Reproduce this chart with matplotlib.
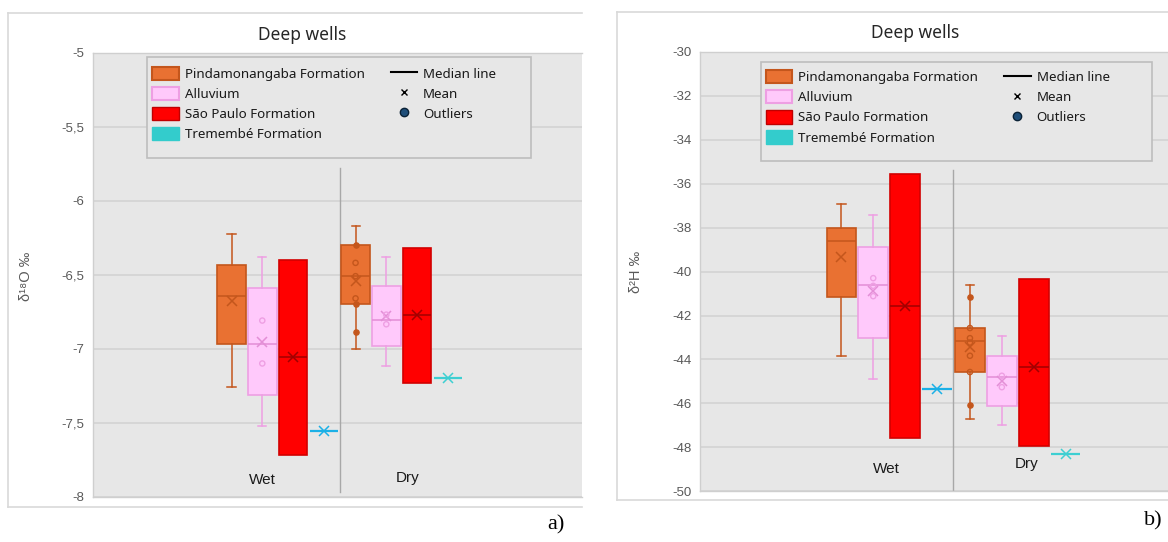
import matplotlib

matplotlib.use("Agg")

import matplotlib.pyplot as plt
from matplotlib.lines import Line2D
from matplotlib.patches import Patch, Rectangle
from matplotlib.ticker import FuncFormatter

categories = ["Wet", "Dry"]
formations = ["Pindamonangaba Formation", "Alluvium", "São Paulo Formation", "Tremembé Formation"]

# per season: (whisker low, q1, median, q3, whisker high, mean)
o18_pinda = [(-7.26, -6.97, -6.645, -6.435, -6.225, -6.68), (-7.005, -6.70, -6.51, -6.30, -6.17, -6.54)]
o18_alluvium = [(-7.52, -7.31, -6.97, -6.59, -6.38, -6.955), (-7.12, -6.98, -6.805, -6.575, -6.38, -6.78)]
o18_sao_paulo = [(-7.72, -7.72, -7.055, -6.40, -6.40, -7.055), (-7.235, -7.235, -6.77, -6.32, -6.32, -6.77)]
o18_tremembe = [-7.555, -7.195]
o18_pinda_points = [[], [-6.42, -6.51, -6.66]]
o18_pinda_outliers = [[], [-6.30, -6.70, -6.89]]
o18_alluvium_points = [[-6.81, -7.10], [-6.77, -6.835]]
o18_ticks = [-8, -7.5, -7, -6.5, -6, -5.5, -5]

h2_pinda = [(-43.83, -41.18, -38.62, -38.02, -36.91, -39.33), (-46.71, -44.57, -43.18, -42.57, -40.60, -43.44)]
h2_alluvium = [(-44.89, -43.0, -40.6, -38.88, -37.44, -40.88), (-46.97, -46.10, -44.80, -43.86, -42.95, -45.0)]
h2_sao_paulo = [(-47.55, -47.55, -41.56, -35.58, -35.58, -41.56), (-47.92, -47.92, -44.36, -40.35, -40.35, -44.36)]
h2_tremembe = [-45.32, -48.28]
h2_pinda_points = [[], [-42.57, -43.03, -43.23, -43.83, -44.57]]
h2_pinda_outliers = [[], [-41.15, -46.06]]
h2_alluvium_points = [[-40.30, -40.65, -41.12], [-44.74, -45.26]]
h2_ticks = [-50, -48, -46, -44, -42, -40, -38, -36, -34, -32, -30]

PINDA_FILL, PINDA_EDGE = "#E97132", "#C4561C"
ALLU_FILL, ALLU_EDGE = "#FFC9FB", "#EE9FE3"
SP_FILL, SP_EDGE, SP_MED = "#FF0000", "#D20000", "#A00000"
TREM_COLORS = ["#1CB0E6", "#3ECFD2"]
TREM_LEGEND = "#33CCCC"
PLOT_BG = "#E7E7E7"
GRID = "#D5D5D5"
TICK_GREY = "#595959"

W, H = 1168, 542
OFFSETS = [-0.372, -0.124, 0.124, 0.372]
BOX_W = 0.23


def fx(x):
    return x / W


def fy(y):
    return 1 - y / H


def stats_of(rows):
    return [
        dict(whislo=r[0], q1=r[1], med=r[2], q3=r[3], whishi=r[4], mean=r[5], fliers=[])
        for r in rows
    ]


def draw_group(ax, rows, positions, fill, edge, med, lw=1.2, caps=True):
    ax.bxp(
        stats_of(rows),
        positions=positions,
        widths=BOX_W,
        patch_artist=True,
        showmeans=True,
        showfliers=False,
        showcaps=caps,
        manage_ticks=False,
        capwidths=0.065,
        boxprops=dict(facecolor=fill, edgecolor=edge, linewidth=lw),
        medianprops=dict(color=med, linewidth=1.1),
        whiskerprops=dict(color=edge, linewidth=1.1),
        capprops=dict(color=edge, linewidth=1.1),
        meanprops=dict(marker="x", markeredgecolor=med, markersize=7, markeredgewidth=1.1, linestyle="none"),
        zorder=2,
    )


def draw_points(ax, values, offset, color, filled):
    for i, vals in enumerate(values):
        if not vals:
            continue
        ax.scatter(
            [i + offset] * len(vals),
            vals,
            s=14,
            facecolors=color if filled else "none",
            edgecolors=color,
            linewidths=1.0,
            zorder=3,
        )


def draw_panel(ax, pinda, allu, sp, trem, pinda_pts, pinda_out, allu_pts, ticks, fmt, xlim, divider, labels_xy):
    ax.set_facecolor(PLOT_BG)
    ax.set_xlim(*xlim)
    ax.set_ylim(ticks[0], ticks[-1])
    ax.set_yticks(ticks)
    ax.yaxis.set_major_formatter(FuncFormatter(fmt))
    ax.tick_params(axis="y", length=0, pad=6, labelsize=9.5, labelcolor=TICK_GREY)
    for lab in ax.get_yticklabels():
        lab.set_family(["Liberation Sans Narrow", "Liberation Sans", "DejaVu Sans"])
    ax.set_xticks([])
    ax.grid(axis="y", color=GRID, linewidth=1.3)
    ax.set_axisbelow(True)
    for side in ["left", "top", "bottom"]:
        ax.spines[side].set_color("#CFCFCF")
        ax.spines[side].set_linewidth(1.0)
    ax.spines["right"].set_visible(False)

    ax.axvline(0.5, ymin=divider[0], ymax=divider[1], color="#A8A8A8", linewidth=1.0, zorder=1.5)

    pos = range(len(categories))
    draw_group(ax, pinda, [i + OFFSETS[0] for i in pos], PINDA_FILL, PINDA_EDGE, PINDA_EDGE)
    draw_group(ax, allu, [i + OFFSETS[1] for i in pos], ALLU_FILL, ALLU_EDGE, "#E38ED6")
    draw_group(ax, sp, [i + OFFSETS[2] for i in pos], SP_FILL, SP_EDGE, SP_MED, caps=False)
    for i, v in enumerate(trem):
        draw_group(ax, [(v, v, v, v, v, v)], [i + OFFSETS[3]], "none", TREM_COLORS[i], TREM_COLORS[i],
                   lw=1.6, caps=False)

    draw_points(ax, pinda_pts, OFFSETS[0], PINDA_EDGE, False)
    draw_points(ax, pinda_out, OFFSETS[0], PINDA_EDGE, True)
    draw_points(ax, allu_pts, OFFSETS[1], "#EE9FE3", False)

    for name, (x, y) in zip(categories, labels_xy):
        ax.text(x, y, name, ha="center", va="center", fontsize=11, color="#1A1A1A",
                family=["Liberation Sans", "DejaVu Sans"], zorder=4)


def legend_handles():
    return [
        Patch(facecolor=PINDA_FILL, edgecolor=PINDA_EDGE, linewidth=1.5, label=formations[0]),
        Patch(facecolor=ALLU_FILL, edgecolor=ALLU_EDGE, linewidth=1.5, label=formations[1]),
        Patch(facecolor=SP_FILL, edgecolor="#C00000", linewidth=1.0, label=formations[2]),
        Patch(facecolor=TREM_LEGEND, edgecolor=TREM_LEGEND, linewidth=1.0, label=formations[3]),
        Line2D([], [], color="black", linewidth=1.5, label="Median line"),
        Line2D([], [], linestyle="none", marker="x", color="black", markersize=4.5, markeredgewidth=1.0, label="Mean"),
        Line2D([], [], linestyle="none", marker="o", markerfacecolor="#1F4E79", markeredgecolor="#0B2236",
               markersize=6, label="Outliers"),
        Line2D([], [], linestyle="none", label=" "),
    ]


def add_legend(fig, box, anchor):
    x0, y0, x1, y1 = box
    fig.patches.append(Rectangle((fx(x0), fy(y1)), fx(x1 - x0), (y1 - y0) / H, transform=fig.transFigure,
                                 facecolor=PLOT_BG, edgecolor="#BDBDBD", linewidth=1.2, zorder=5))
    leg = fig.legend(handles=legend_handles(), ncol=2, loc="upper left",
                     bbox_to_anchor=(fx(anchor[0]), fy(anchor[1])), bbox_transform=fig.transFigure,
                     frameon=False, handlelength=2.0, handleheight=1.15,
                     handletextpad=0.45, labelspacing=0.45, columnspacing=1.95, borderpad=0,
                     borderaxespad=0, prop=dict(family=["Noto Sans", "DejaVu Sans"], size=9.6))
    leg.set_zorder(6)
    for t in leg.get_texts():
        t.set_color("#1A1A1A")


def add_frame(fig, x0, y0, x1, y1):
    for xs, ys in [((x0, x1), (y0, y0)), ((x0, x0), (y0, y1)), ((x0, x1), (y1, y1))]:
        fig.add_artist(Line2D([fx(v) for v in xs], [fy(v) for v in ys], color="#D9D9D9", linewidth=1.2,
                              transform=fig.transFigure))


fig = plt.figure(figsize=(W / 100, H / 100), dpi=100)
fig.patch.set_facecolor("white")

add_frame(fig, 8, 12.5, 582, 507)
add_frame(fig, 617, 11.5, 1170, 500)

ax_o = fig.add_axes([fx(93), fy(496.6), fx(582 - 93), 443.8 / H])
draw_panel(ax_o, o18_pinda, o18_alluvium, o18_sao_paulo, o18_tremembe,
           o18_pinda_points, o18_pinda_outliers, o18_alluvium_points, o18_ticks,
           lambda v, _: f"{v:g}".replace(".", ","), (-1.489, 2.454), (0.01, 0.74),
           [(-0.123, -7.886), (1.05, -7.877)])

ax_h = fig.add_axes([fx(700), fy(491.4), fx(1168 - 700), 439.7 / H])
draw_panel(ax_h, h2_pinda, h2_alluvium, h2_sao_paulo, h2_tremembe,
           h2_pinda_points, h2_pinda_outliers, h2_alluvium_points, h2_ticks,
           lambda v, _: f"{v:g}", (-1.471, 2.168), (0.004, 0.73),
           [(-0.02, -49.0), (1.07, -48.74)])
ax_h.texts[-1].set_bbox(dict(facecolor=PLOT_BG, edgecolor="none", boxstyle="square,pad=0.55"))

add_legend(fig, (147.3, 57.3, 530.8, 158), (152, 66.5))
add_legend(fig, (761.3, 61.7, 1151.7, 161), (765.5, 70))

title_font = ["Noto Sans", "DejaVu Sans"]
fig.text(fx(302), fy(34.5), "Deep wells", ha="center", va="center", fontsize=12.5, color="#262626", family=title_font)
fig.text(fx(915), fy(33), "Deep wells", ha="center", va="center", fontsize=12.5, color="#262626", family=title_font)

label_font = ["Liberation Sans", "DejaVu Sans"]
fig.text(fx(26), fy(276), "δ¹⁸O ‰", rotation=90, ha="center", va="center", fontsize=10.5, color=TICK_GREY, family=label_font)
fig.text(fx(636), fy(272), "δ²H ‰", rotation=90, ha="center", va="center", fontsize=10.5, color=TICK_GREY, family=label_font)

serif = ["Liberation Serif", "DejaVu Serif"]
fig.text(fx(556), fy(525), "a)", ha="center", va="center", fontsize=16, color="black", family=serif)
fig.text(fx(1153), fy(521), "b)", ha="center", va="center", fontsize=16, color="black", family=serif)

fig.savefig("out.png", dpi=100, facecolor="white")
